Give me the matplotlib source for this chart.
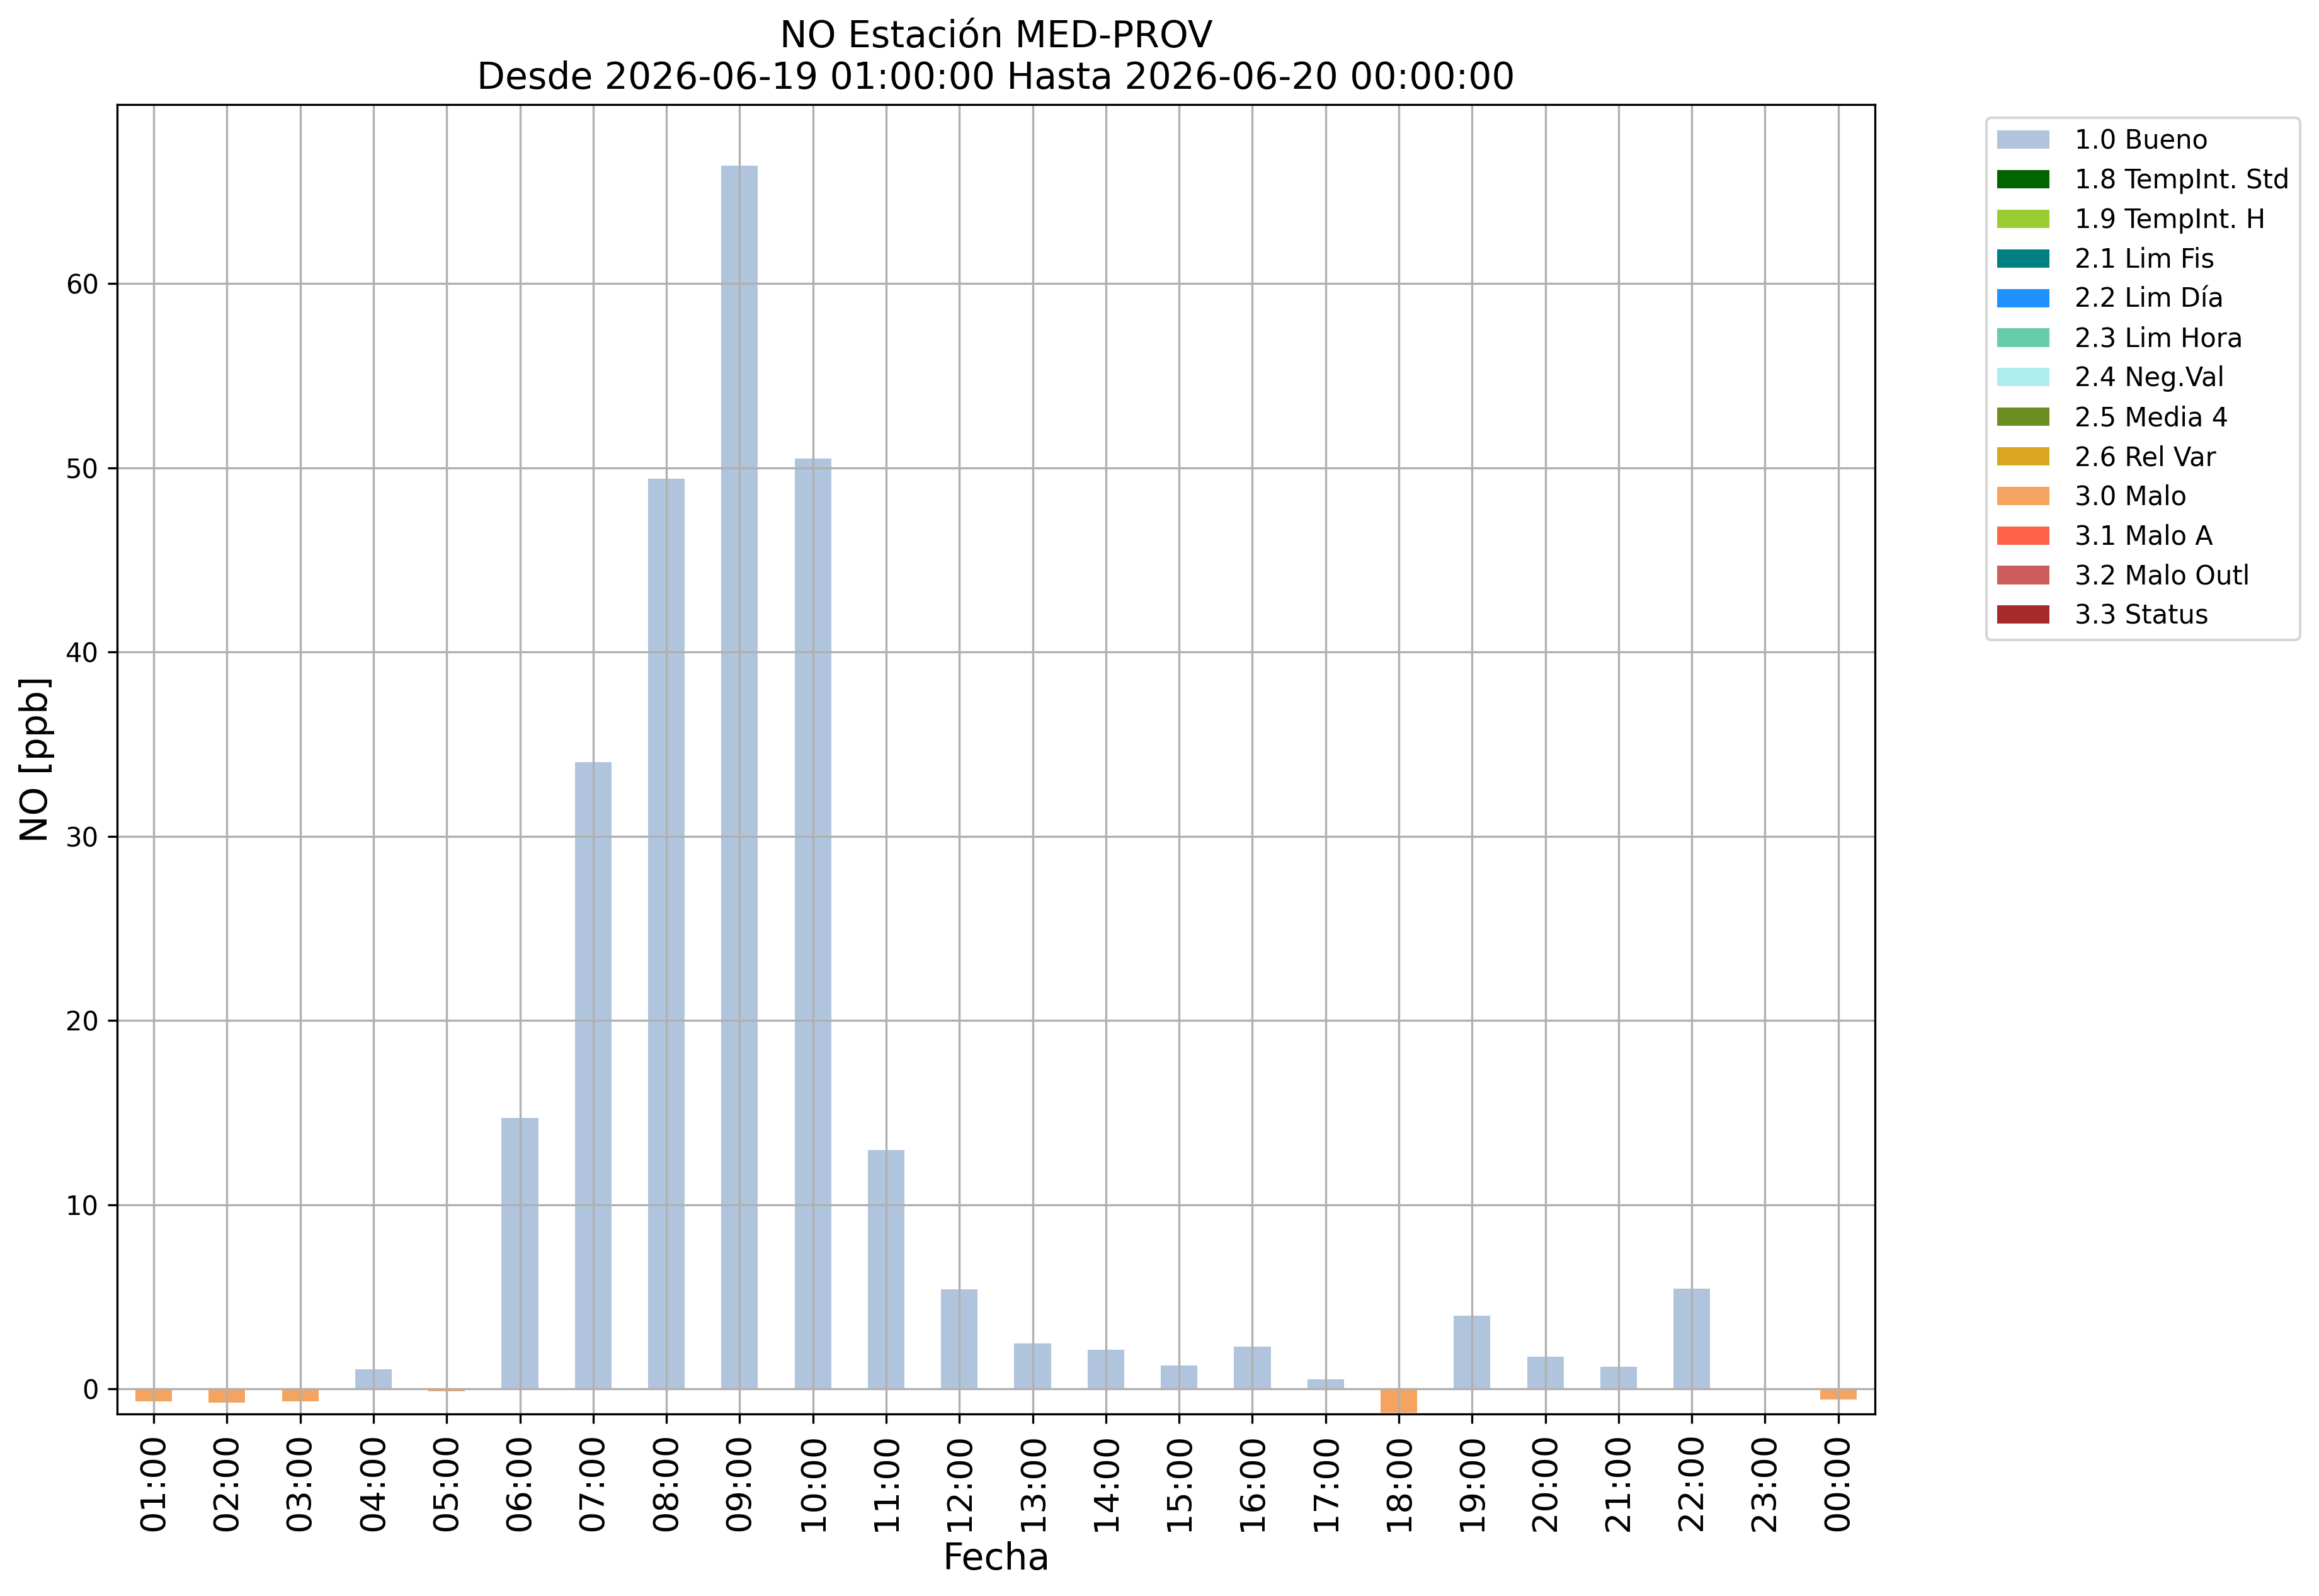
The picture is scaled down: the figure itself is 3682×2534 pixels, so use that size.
import numpy as np
import matplotlib
matplotlib.use('Agg')
import matplotlib.pyplot as plt

# hourly NO values, one series per quality flag
hours = ['01:00', '02:00', '03:00', '04:00', '05:00', '06:00', '07:00', '08:00',
         '09:00', '10:00', '11:00', '12:00', '13:00', '14:00', '15:00', '16:00',
         '17:00', '18:00', '19:00', '20:00', '21:00', '22:00', '23:00', '00:00']

bueno = [0, 0, 0, 1.06, 0, 14.72, 34.01, 49.41, 66.39, 50.48, 12.96, 5.42,
         2.47, 2.13, 1.27, 2.30, 0.51, 0, 3.98, 1.75, 1.20, 5.45, 0, 0]
malo = [-0.68, -0.75, -0.68, 0, -0.14, 0, 0, 0, 0, 0, 0, 0,
        0, 0, 0, 0, 0, -1.30, 0, 0, 0, 0, 0, -0.58]
empty = [0] * len(hours)

flag_labels = ['1.0 Bueno', '1.8 TempInt. Std', '1.9 TempInt. H', '2.1 Lim Fis',
               '2.2 Lim Día', '2.3 Lim Hora', '2.4 Neg.Val', '2.5 Media 4',
               '2.6 Rel Var', '3.0 Malo', '3.1 Malo A', '3.2 Malo Outl', '3.3 Status']
flag_colors = ['lightsteelblue', 'darkgreen', 'yellowgreen', 'teal', 'dodgerblue',
               'mediumaquamarine', 'paleturquoise', 'olivedrab', 'goldenrod',
               'sandybrown', 'tomato', 'indianred', 'brown']
flag_values = [bueno, empty, empty, empty, empty, empty, empty, empty, empty,
               malo, empty, empty, empty]

station = 'MED-PROV'
desde = '2026-06-19 01:00:00'
hasta = '2026-06-20 00:00:00'

fig = plt.figure(figsize=(3682 / 300, 2534 / 300), dpi=300)
ax = fig.add_subplot(111)
fig.subplots_adjust(left=0.0505, right=0.8085, top=0.9345, bottom=0.114)

x = np.arange(len(hours))
pos_bottom = np.zeros(len(hours))
neg_bottom = np.zeros(len(hours))
for label, color, vals in zip(flag_labels, flag_colors, flag_values):
    vals = np.array(vals, dtype=float)
    bottom = np.where(vals >= 0, pos_bottom, neg_bottom)
    ax.bar(x, vals, width=0.5, bottom=bottom, color=color, label=label)
    pos_bottom += np.clip(vals, 0, None)
    neg_bottom += np.clip(vals, None, 0)

ax.set_xticks(x)
ax.set_xticklabels(hours, rotation=90, fontsize=13)
ax.tick_params(axis='y', labelsize=10)
ax.set_xlim(-0.5, len(hours) - 0.5)
ax.set_ylim(neg_bottom.min() * 1.05, pos_bottom.max() * 1.05)
ax.grid(True)

ax.set_xlabel('Fecha', fontsize=14)
ax.set_ylabel('NO [ppb]', fontsize=14)
ax.set_title('NO Estación ' + station + '\nDesde ' + desde + ' Hasta ' + hasta,
             fontsize=14)
ax.legend(bbox_to_anchor=(1.056, 1), loc=2, fontsize=10, handletextpad=0.95)

fig.savefig('out.png', dpi=300)
